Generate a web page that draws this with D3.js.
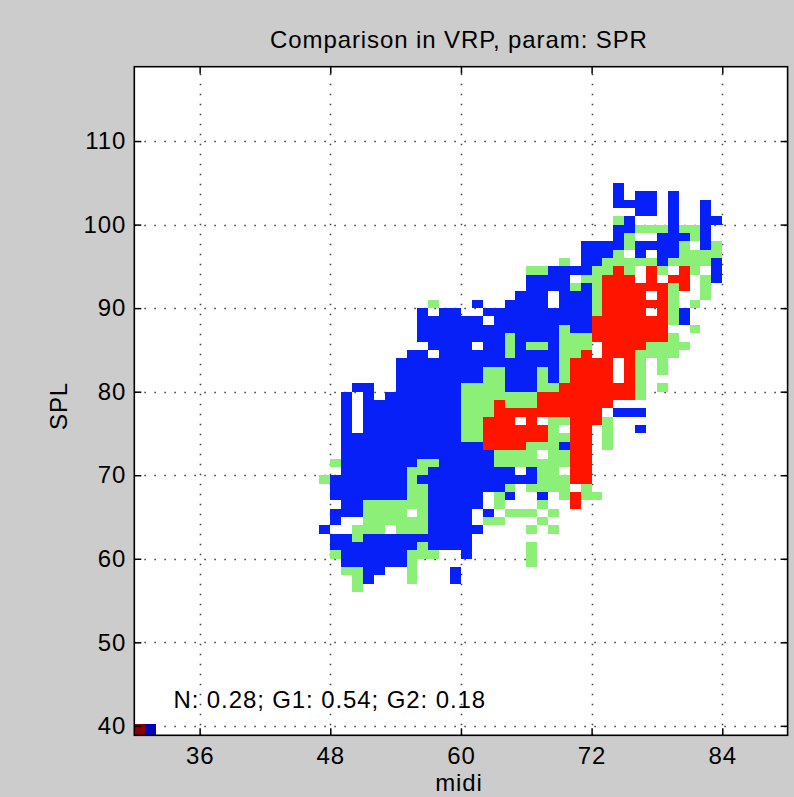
<!DOCTYPE html>
<html><head><meta charset="utf-8">
<script src="https://cdn.jsdelivr.net/npm/d3@7"></script>
<style>
html,body{margin:0;padding:0;background:#cccccc;overflow:hidden;}
text{font-family:"Liberation Sans",Arial,Helvetica,sans-serif;fill:#000;}
</style>
</head><body>
<svg id="chart" width="794" height="797"></svg>
<script>
// ---- data ----
const titleText = "Comparison in VRP, param: SPR";
const xLabelText = "midi";
const yLabelText = "SPL";
const annotationText = "N: 0.28; G1: 0.54; G2: 0.18";
const xTicks = [36, 48, 60, 72, 84];
const yTicks = [40, 50, 60, 70, 80, 90, 100, 110];
const xDomain = [30, 90];
const yDomain = [38.87, 118.9];
const classCodes = ["B", "G", "R"];
const classColors = ["#0820f8", "#8cf078", "#ff1400"];
// corner cells (midi, colour) drawn at the bottom edge
const cornerMidi = [30, 31];
const cornerColors = ["#8b0000", "#0000c0"];
// each row: SPL value, runs "midiFrom-midiTo:class"
const rows = [
 [104,"74:B"],
 [103,"74:B 76-77:B 79:B"],
 [102,"74-77:B 79:B 82:B"],
 [101,"76-77:B 79:B 82:B"],
 [100,"74:G 75:B 79:B 82-83:B"],
 [99,"74-75:B 76-78:G 79:B 80-81:G 82:B"],
 [98,"74:B 75:G 78-80:B 81:G 82:B"],
 [97,"71-74:B 75:G 76-79:B 80:G 82:B 83:G"],
 [96,"71-73:B 74:G 76:B 78-79:B 80-83:G"],
 [95,"69:G 71-72:B 73-77:G 78:B 79-82:G 83:B"],
 [94,"66-67:G 68-71:B 72-73:G 74:R 75:G 77:R 78:G 80:R 81:G 83:B"],
 [93,"66-69:B 71-72:G 73-75:R 77:R 79-80:R 82:G 83:B"],
 [92,"66-69:B 70:G 71:B 72:G 73-78:R 79:G 80:R 82:G"],
 [91,"65-67:B 69-71:B 72:G 73-76:R 78:R 79:G 82:G"],
 [90,"57:G 61:B 64-67:B 69-71:B 72:G 73-78:R 79:G 81:G"],
 [89,"56:B 58-59:B 62-71:B 72:G 73-76:R 78:R 79:G 80:B"],
 [88,"56-61:B 63-71:B 72-78:R 79:G 80:B"],
 [87,"56-68:B 69:G 70-71:B 72-78:R 81:G"],
 [86,"56-63:B 64:G 65-68:B 69-71:G 72-78:R 79:G"],
 [85,"57-60:B 62-63:B 64:G 65:B 66-67:G 68:B 69-71:G 73-76:R 77-80:G"],
 [84,"55-56:B 58-63:B 64:G 65-68:B 69-70:G 71:R 73-75:R 76-79:G"],
 [83,"54-68:B 69:G 70-73:R 75:R 76:G 78:G"],
 [82,"54-61:B 62-63:G 64-66:B 67:G 68:B 69:G 70-73:R 75:R 76:G 78:G"],
 [81,"54-61:B 62-63:G 64-66:B 67:G 68:B 69:G 70-73:R 75:R 76:G"],
 [80,"50-51:B 54-59:B 60-63:G 64-66:B 67-68:G 69-75:R 76:G 78:G"],
 [79,"49:B 51:B 53-59:B 60-66:G 67-75:R 76:G"],
 [78,"49:B 51-59:B 60-62:G 63:R 64-66:G 67-73:R"],
 [77,"49:B 51-59:B 60-62:G 63-72:R 74-76:B"],
 [76,"49:B 51-59:B 60-61:G 62-64:R 66:R 68-69:G 70-72:R 73:G"],
 [75,"49:B 51-59:B 60-61:G 62-67:R 68:G 70-71:R 73:G 76:B"],
 [74,"49-59:B 60-61:G 62-67:R 68-69:G 70-71:R 73:G"],
 [73,"49-61:B 62-65:R 66-68:G 69:B 70-71:R 73:G"],
 [72,"49-62:B 63-66:G 68-69:G 70-71:R"],
 [71,"48:G 49-55:B 56-57:G 58-62:B 63-69:G 70-71:R"],
 [70,"49-54:B 55-56:G 57-64:B 66:B 67-68:G 70-71:R"],
 [69,"47:G 48-54:B 55:G 56-66:B 67-69:G 70-71:R"],
 [68,"48-54:B 55-56:G 57-63:B 64:G 66-69:G 71:G"],
 [67,"48-54:B 55-56:G 57-61:B 63:G 64:B 67:B 69:G 70:R 71:G 72:G"],
 [66,"49-50:B 51-56:G 57-61:B 63:G 67:G 70:R"],
 [65,"48-50:B 51-54:G 56:G 57-60:B 62:B 64-66:G 68:G"],
 [64,"48:B 51-56:G 57-60:B 62-63:G 67:G"],
 [63,"47:B 50-52:G 54-56:G 57-61:B 66:G 68:G"],
 [62,"48-49:B 50:G 51-60:B"],
 [61,"48-55:B 56:G 57-60:B 66:G"],
 [60,"48:G 49-54:B 55-57:G 60:B 66:G"],
 [59,"49-54:B 55:G 66:G"],
 [58,"49-50:G 51-52:B 55:G 59:B"],
 [57,"50:G 51:B 55:G 59:B"],
 [56,"50:G"]
];

// ---- layout ----
const W = 794, H = 797;
const plot = {left: 134.3, right: 787.6, top: 66.7, bottom: 735.3};
const FONT = '"Liberation Sans",Arial,sans-serif';
const LS = "0.9px";
const svg = d3.select("#chart");
svg.append("rect").attr("width", W).attr("height", H).attr("fill", "#cccccc");

const x = d3.scaleLinear().domain(xDomain).range([plot.left, plot.right]);
const y = d3.scaleLinear().domain(yDomain).range([plot.bottom, plot.top]);
const color = d3.scaleOrdinal().domain(classCodes).range(classColors);

// expand rows into cells
const cells = [];
rows.forEach(([spl, spec]) => {
  spec.trim().split(/\s+/).forEach(tok => {
    const [range, cls] = tok.split(":");
    const parts = range.split("-").map(Number);
    const a = parts[0], b = parts.length > 1 ? parts[1] : parts[0];
    for (let m = a; m <= b; m++) cells.push({midi: m, spl: spl, cls: cls});
  });
});

// axes background
svg.append("rect")
  .attr("x", plot.left).attr("y", plot.top)
  .attr("width", plot.right - plot.left).attr("height", plot.bottom - plot.top)
  .attr("fill", "#ffffff");

// grid
const grid = svg.append("g").attr("stroke", "#444").attr("stroke-width", 1.6)
  .attr("stroke-dasharray", "1.6 8.4");
grid.selectAll("line.vx").data(xTicks).join("line")
  .attr("x1", d => Math.round(x(d)) + 0.5).attr("x2", d => Math.round(x(d)) + 0.5)
  .attr("y1", plot.bottom).attr("y2", plot.top);
grid.selectAll("line.hy").data(yTicks).join("line")
  .attr("y1", d => Math.round(y(d)) + 0.5).attr("y2", d => Math.round(y(d)) + 0.5)
  .attr("x1", plot.left).attr("x2", plot.right);

// cells
svg.append("g").attr("shape-rendering", "crispEdges")
  .selectAll("rect").data(cells).join("rect")
  .attr("x", d => x(d.midi))
  .attr("width", d => x(d.midi + 1) - x(d.midi))
  .attr("y", d => y(d.spl + 1))
  .attr("height", d => y(d.spl) - y(d.spl + 1))
  .attr("fill", d => color(d.cls));

// corner cells
svg.append("g").attr("shape-rendering", "crispEdges")
  .selectAll("rect").data(cornerMidi).join("rect")
  .attr("x", d => x(d)).attr("width", d => x(d + 1) - x(d))
  .attr("y", y(40.17)).attr("height", plot.bottom - y(40.17))
  .attr("fill", (d, i) => cornerColors[i]);

// axes (MATLAB style, ticks inside, box)
const fs = 24;
const axL = svg.append("g").attr("transform", `translate(${plot.left},0)`)
  .call(d3.axisLeft(y).tickValues(yTicks).tickSize(-7).tickPadding(8).tickFormat(d3.format("d")));
const axB = svg.append("g").attr("transform", `translate(0,${plot.bottom})`)
  .call(d3.axisBottom(x).tickValues(xTicks).tickSize(-7).tickPadding(12).tickFormat(d3.format("d")));
const axT = svg.append("g").attr("transform", `translate(0,${plot.top})`)
  .call(d3.axisTop(x).tickValues(xTicks).tickSize(-7).tickFormat(""));
const axR = svg.append("g").attr("transform", `translate(${plot.right},0)`)
  .call(d3.axisRight(y).tickValues(yTicks).tickSize(-7).tickFormat(""));
[axL, axB, axT, axR].forEach(g => {
  g.select(".domain").remove();
  g.selectAll(".tick line").attr("stroke", "#000").attr("stroke-width", 1.5);
  g.selectAll("text").attr("font-size", fs).attr("font-family", FONT)
    .attr("fill", "#000").style("letter-spacing", LS);
});
// box
svg.append("rect")
  .attr("x", plot.left).attr("y", plot.top)
  .attr("width", plot.right - plot.left).attr("height", plot.bottom - plot.top)
  .attr("fill", "none").attr("stroke", "#000").attr("stroke-width", 1.6);

// texts
svg.append("text").attr("x", (plot.left + plot.right) / 2 - 2).attr("y", 48)
  .attr("text-anchor", "middle").attr("font-size", 24).style("letter-spacing", LS).text(titleText);
svg.append("text").attr("x", (plot.left + plot.right) / 2 - 2).attr("y", 791)
  .attr("text-anchor", "middle").attr("font-size", 24).style("letter-spacing", LS).text(xLabelText);
svg.append("text").attr("transform", `translate(67,${(plot.top + plot.bottom) / 2 + 5}) rotate(-90)`)
  .attr("text-anchor", "middle").attr("font-size", 24).style("letter-spacing", LS).text(yLabelText);
svg.append("text").attr("x", x(33.6)).attr("y", 708)
  .attr("font-size", 24).style("letter-spacing", LS).text(annotationText);
</script>
</body></html>
